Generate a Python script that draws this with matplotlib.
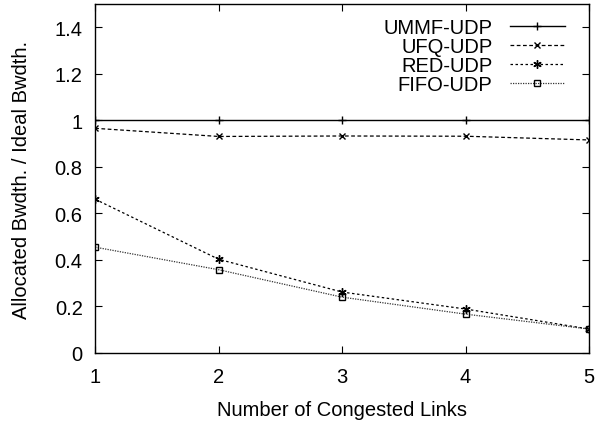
import matplotlib
matplotlib.use("Agg")
import matplotlib.pyplot as plt

links = [1, 2, 3, 4, 5]
ummf_udp = [1.0, 1.0, 1.0, 1.0, 1.0]
ufq_udp = [0.966, 0.931, 0.933, 0.932, 0.916]
red_udp = [0.661, 0.403, 0.262, 0.189, 0.103]
fifo_udp = [0.455, 0.358, 0.240, 0.167, 0.103]

plt.rcParams['font.family'] = ['Liberation Sans', 'DejaVu Sans']
plt.rcParams['font.size'] = 14.5

fig = plt.figure(figsize=(5.95, 4.27), dpi=100)
ax = fig.add_axes([0.16, 0.171, 0.83, 0.817])

ax.plot(links, ummf_udp, color='black', lw=1.0, ls='-', marker='+', ms=6, mew=1.0, label='UMMF-UDP')
ax.plot(links, ufq_udp, color='black', lw=0.9, ls=(0, (3, 2)), marker='x', ms=5, mew=1.0, label='UFQ-UDP')
ax.plot(links, red_udp, color='black', lw=0.9, ls=(0, (2, 2)), marker=(6, 2, 0), ms=6, mew=1.0, label='RED-UDP')
ax.plot(links, fifo_udp, color='#333333', lw=0.9, ls=(0, (1, 1)), marker='s', ms=5, mfc='none', mec='black', mew=1.0, label='FIFO-UDP')

ax.set_xlim(1, 5)
ax.set_ylim(0, 1.5)
ax.set_xticks(links)
ax.set_yticks([0, 0.2, 0.4, 0.6, 0.8, 1, 1.2, 1.4])
ax.set_yticklabels(['0', '0.2', '0.4', '0.6', '0.8', '1', '1.2', '1.4'])
ax.tick_params(direction='in', top=True, right=True, length=5, width=0.8)
ax.tick_params(axis='y', pad=9)
ax.tick_params(axis='x', pad=10)
for s in ax.spines.values():
    s.set_linewidth(1.0)

ax.set_xlabel('Number of Congested Links', labelpad=10)
ax.set_ylabel('Allocated Bwdth. / Ideal Bwdth.', labelpad=17)

ax.legend(loc='upper right', frameon=False, markerfirst=False, handlelength=2.75,
          labelspacing=0.0, borderaxespad=0.3, handletextpad=0.85, fontsize=14.5,
          bbox_to_anchor=(0.98, 1.0))

fig.savefig('out.png', dpi=100)
